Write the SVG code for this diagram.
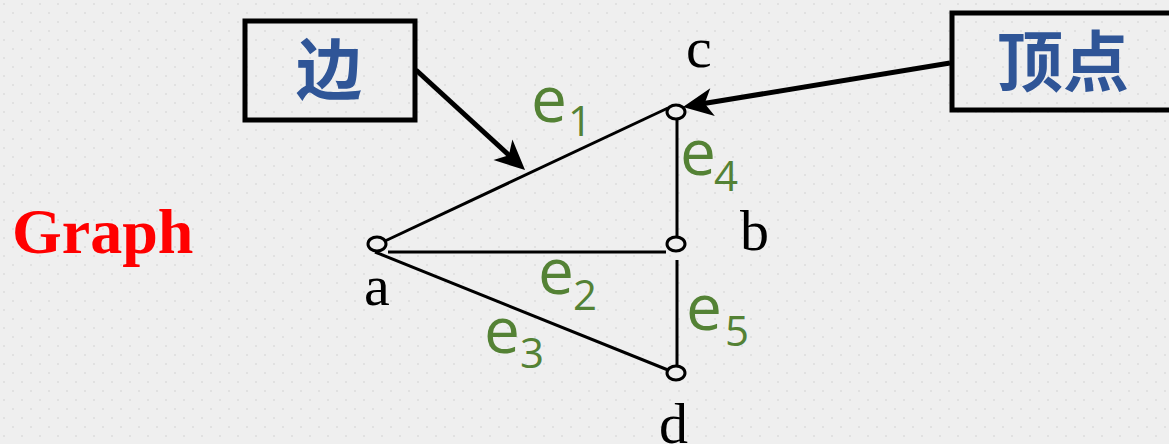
<svg xmlns="http://www.w3.org/2000/svg" width="1169" height="444" viewBox="0 0 1169 444">
  <defs>
    <!-- faint staggered dot texture of the slide background -->
    <pattern id="dots" width="18" height="18" patternUnits="userSpaceOnUse">
      <rect width="18" height="18" fill="#efefef"/>
      <rect x="3" y="3" width="2" height="2" fill="#e1e1e1"/>
      <rect x="12" y="12" width="2" height="2" fill="#e1e1e1"/>
    </pattern>
    <marker id="stealth" viewBox="-20 -16 34 32" refX="0" refY="0" markerWidth="34" markerHeight="32" markerUnits="userSpaceOnUse" orient="auto">
      <path d="M12,0 L-18,-14 L-10,0 L-18,14 Z" fill="#000"/>
    </marker>
    <style>
      .edge { stroke: #000; stroke-width: 3; fill: none; }
      .vertex { stroke: #000; stroke-width: 3; fill: #efefef; }
      .callout { stroke: #000; stroke-width: 5; fill: none; }
      .pointer { stroke: #000; stroke-width: 5; fill: none; marker-end: url(#stealth); }
      .vlabel { font-family: "Liberation Serif", serif; font-size: 58px; fill: #000; }
      .elabel { font-family: "Open Sans", "DejaVu Sans", sans-serif; font-size: 64px; fill: #548235; }
      .esub { font-size: 42px; }
      .cjk { font-family: "Noto Sans CJK SC", sans-serif; font-weight: bold; font-size: 66px; fill: #2f5597; text-anchor: middle; }
    </style>
  </defs>

  <rect width="1169" height="444" fill="url(#dots)"/>

  <text x="12" y="253" font-family="Liberation Serif, serif" font-weight="bold" font-size="64" fill="#ff0000">Graph</text>

  <!-- edges -->
  <g id="connectors">
    <line class="edge" x1="385" y1="241" x2="668" y2="108"/>
    <line class="edge" x1="388" y1="252" x2="666" y2="252"/>
    <line class="edge" x1="375" y1="252" x2="668" y2="370"/>
    <line class="edge" x1="677" y1="119" x2="677" y2="236"/>
    <line class="edge" x1="677" y1="260" x2="677" y2="366"/>
    <line class="pointer" x1="416" y1="70" x2="516.2" y2="161.9"/>
    <line class="pointer" x1="950" y1="63" x2="694.8" y2="105"/>
  </g>

  <!-- vertices -->
  <g id="node-a">
    <ellipse class="vertex" cx="377" cy="244" rx="9" ry="7"/>
    <text class="vlabel" x="364" y="305">a</text>
  </g>
  <g id="node-b">
    <ellipse class="vertex" cx="676" cy="244" rx="9" ry="7"/>
    <text class="vlabel" x="740" y="250">b</text>
  </g>
  <g id="node-c">
    <ellipse class="vertex" cx="676" cy="112" rx="9" ry="7"/>
    <text class="vlabel" x="686" y="67">c</text>
  </g>
  <g id="node-d">
    <ellipse class="vertex" cx="676" cy="373" rx="9" ry="7"/>
    <text class="vlabel" x="659" y="443">d</text>
  </g>

  <!-- edge labels -->
  <g id="edge-labels">
    <text class="elabel" x="531" y="122">e<tspan class="esub" x="568" y="136">1</tspan></text>
    <text class="elabel" x="680" y="175">e<tspan class="esub" x="714" y="191">4</tspan></text>
    <text class="elabel" x="538" y="294">e<tspan class="esub" x="573" y="310">2</tspan></text>
    <text class="elabel" x="484" y="353">e<tspan class="esub" x="520" y="368">3</tspan></text>
    <text class="elabel" x="686" y="330">e<tspan class="esub" x="725" y="346">5</tspan></text>
  </g>

  <!-- callout boxes -->
  <g id="callout-edge">
    <rect class="callout" x="245" y="21" width="170" height="99"/>
    <text class="cjk" x="329" y="94">边</text>
  </g>
  <g id="callout-vertex">
    <rect class="callout" x="952" y="13" width="240" height="97"/>
    <text class="cjk" x="1063" y="86">顶点</text>
  </g>
</svg>
